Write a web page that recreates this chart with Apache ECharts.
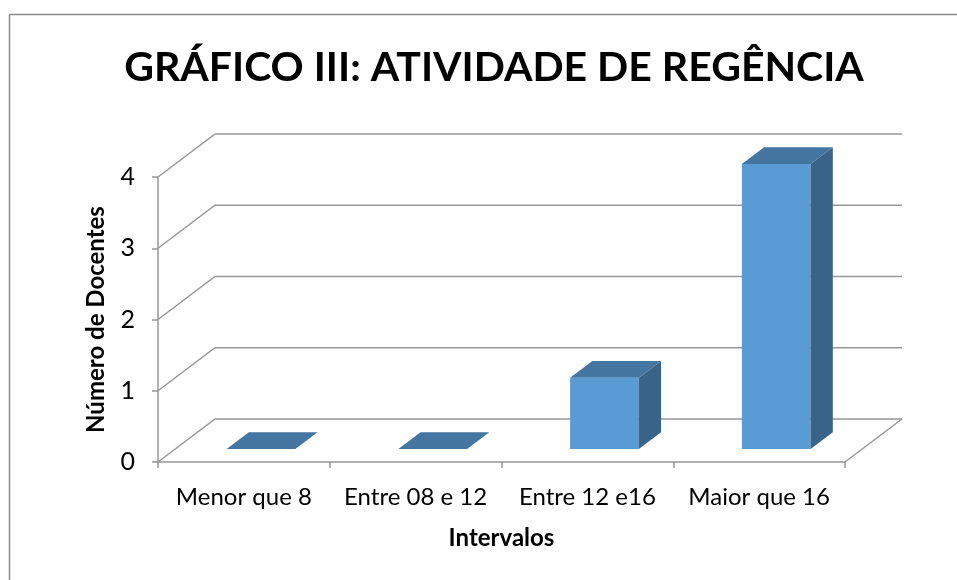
<!DOCTYPE html>
<html>
<head>
<meta charset="utf-8">
<script src="https://cdn.jsdelivr.net/npm/echarts@6/dist/echarts.min.js"></script>
<style>html,body{margin:0;padding:0;background:#fff;}#c{width:957px;height:580px;}</style>
</head>
<body>
<div id="c"></div>
<script>
const categories = ['Menor que 8', 'Entre 08 e 12', 'Entre 12 e16', 'Maior que 16'];
const values = [0, 0, 1, 4];
const yTicks = [0, 1, 2, 3, 4];
const titleText = 'GRÁFICO III: ATIVIDADE DE REGÊNCIA';
const yName = 'Número de Docentes';
const xName = 'Intervalos';

const FONT = 'Lato';
const DX = 57, DY = -43;           // depth vector of the 3D floor
const GRID_COLOR = '#979797';
const FRONT = '#5B9BD5', TOP = '#4575A1', SIDE = '#3A6388';

const chart = echarts.init(document.getElementById('c'), null, {renderer: 'canvas'});

const option = {
  animation: false,
  backgroundColor: '#fff',
  title: {
    text: titleText,
    left: 489, top: 42,
    textAlign: 'center',
    textStyle: {fontFamily: FONT, fontWeight: 'bold', fontSize: 41, color: '#000'}
  },
  graphic: [
    {type: 'line', shape: {x1: 9.5, y1: 14.5, x2: 957, y2: 14.5}, style: {stroke: '#8c8c8c', lineWidth: 1.5}},
    {type: 'line', shape: {x1: 9.5, y1: 14.5, x2: 9.5, y2: 580}, style: {stroke: '#8c8c8c', lineWidth: 1.5}}
  ],
  grid: {left: 158, right: 112, top: 177, bottom: 118, containLabel: false},
  xAxis: {
    type: 'category',
    data: categories,
    name: xName,
    nameLocation: 'middle',
    nameGap: 64,
    nameTextStyle: {fontFamily: FONT, fontWeight: 'bold', fontSize: 24, color: '#000'},
    axisLine: {show: true, lineStyle: {color: GRID_COLOR, width: 1.5}},
    axisTick: {show: true, interval: 0, length: 6, lineStyle: {color: GRID_COLOR, width: 1.5}},
    axisLabel: {interval: 0, hideOverlap: false, fontFamily: FONT, fontSize: 24, color: '#000', margin: 23},
    splitLine: {show: false}
  },
  yAxis: {
    type: 'value',
    min: 0, max: 4, interval: 1,
    name: yName,
    nameLocation: 'middle',
    nameGap: 50,
    nameTextStyle: {fontFamily: FONT, fontWeight: 'bold', fontSize: 24, color: '#000'},
    axisLine: {show: true, lineStyle: {color: GRID_COLOR, width: 1.5}},
    axisTick: {show: true, length: 6, lineStyle: {color: GRID_COLOR, width: 1.5}},
    axisLabel: {fontFamily: FONT, fontSize: 25, color: '#000', margin: 23},
    splitLine: {show: false}
  },
  series: [
    {
      type: 'custom',
      name: 'walls',
      clip: false,
      silent: true,
      z: 1,
      data: yTicks.map(v => [0, v]),
      renderItem: function (params, api) {
        const cs = params.coordSys;
        const x0 = cs.x, x1 = cs.x + cs.width;
        const y = api.coord([0, api.value(1)])[1];
        const children = [{
          type: 'polyline',
          shape: {points: [[x0, y], [x0 + DX, y + DY], [x1 + DX, y + DY]]},
          style: {stroke: GRID_COLOR, lineWidth: 1.5, fill: null}
        }];
        if (api.value(1) === 0) {
          children.push({
            type: 'line',
            shape: {x1: x1, y1: y, x2: x1 + DX, y2: y + DY},
            style: {stroke: GRID_COLOR, lineWidth: 1.5}
          });
        }
        return {type: 'group', children: children};
      }
    },
    {
      type: 'custom',
      name: 'Número de Docentes',
      clip: false,
      z: 2,
      data: values.map((v, i) => [i, v]),
      renderItem: function (params, api) {
        const top = api.coord([api.value(0), api.value(1)]);
        const base = api.coord([api.value(0), 0]);
        const catW = api.size([1, 0])[0];
        const bw = catW * 0.4;
        const f = 0.3, d = 0.39;
        const x0 = top[0] - bw / 2 + f * DX;
        const yt = top[1] + f * DY;
        const yb = base[1] + f * DY;
        const ddx = d * DX, ddy = d * DY;
        const children = [];
        if (yb - yt > 0.5) {
          children.push({
            type: 'rect',
            shape: {x: x0, y: yt, width: bw, height: yb - yt},
            style: {fill: FRONT}
          });
          children.push({
            type: 'polygon',
            shape: {points: [[x0 + bw, yt], [x0 + bw + ddx, yt + ddy], [x0 + bw + ddx, yb + ddy], [x0 + bw, yb]]},
            style: {fill: SIDE}
          });
        }
        children.push({
          type: 'polygon',
          shape: {points: [[x0, yt], [x0 + bw, yt], [x0 + bw + ddx, yt + ddy], [x0 + ddx, yt + ddy]]},
          style: {fill: TOP}
        });
        return {type: 'group', children: children};
      }
    }
  ]
};
chart.setOption(option);
</script>
</body>
</html>
